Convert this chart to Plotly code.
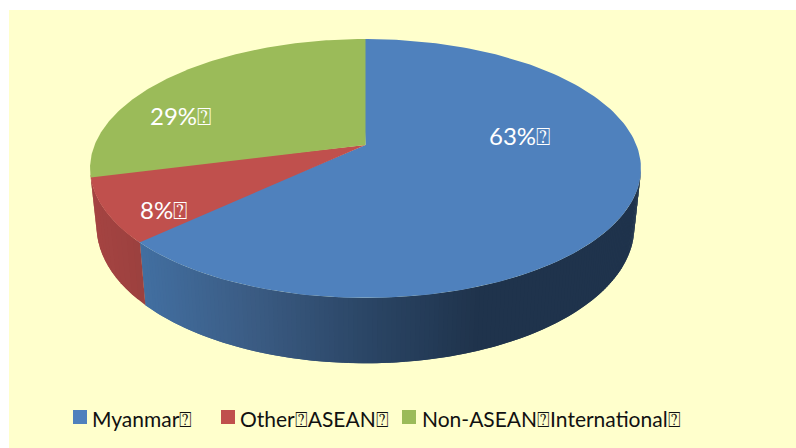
import numpy as np
import plotly.graph_objects as go

categories = ["Myanmar", "Other ASEAN", "Non-ASEAN International"]
shares = [63, 8, 29]
colors = ["#4F81BD", "#C0504D", "#9BBB59"]
TOFU = "\u2370"
legend_labels = ["Myanmar" + TOFU, "Other" + TOFU + "ASEAN" + TOFU, "Non-ASEAN" + TOFU + "International" + TOFU]
pct_labels = [f"{s}%" + TOFU for s in shares]

W, H = 796, 448
CX, CY_TOP, CY_BOT = 365.5, 145.0, 202.0
A, B_TOP, B_BOT = 270.9, 125.2, 132.0
K, BOTTOM_SCALE = 0.1814, 0.976
FONT = "Lato"


def project(deg, cy, b, scale):
    t = np.radians(deg)
    u, v = np.sin(t), np.cos(t)
    d = 1 + K * v
    return CX + scale * A * u / d, cy - b * v / d


def top(deg):
    return project(deg, CY_TOP, B_TOP, 1.0)


def bottom(deg):
    return project(deg, CY_BOT, B_BOT, BOTTOM_SCALE)


def mix(stops, x):
    xs = [s[0] for s in stops]
    return "rgb({:.0f},{:.0f},{:.0f})".format(*[np.interp(x, xs, [s[1][i] for s in stops]) for i in range(3)])


BLUE_SIDE = [(140, (66, 111, 161)), (250, (59, 92, 132)), (365, (43, 70, 102)), (480, (31, 51, 76)), (700, (31, 51, 76))]
RED_SIDE = [(90, (165, 68, 66)), (145, (155, 64, 62))]

total = sum(shares)
cum = np.cumsum([0] + shares) / total * 360
fig = go.Figure()


def poly(xs, ys, color):
    fig.add_trace(go.Scatter(x=xs, y=ys, mode="lines", fill="toself", fillcolor=color,
                             line=dict(color=color, width=0), showlegend=False, hoverinfo="skip"))


# side walls, drawn as narrow overlapping strips so the shading can vary along the rim
def wall(a0, a1, stops, n):
    edges = np.linspace(a0, a1, n + 1)
    step = edges[1] - edges[0]
    for e0 in edges[:-1]:
        ang = np.linspace(e0, min(e0 + 2 * step, a1), 4)
        tx, ty = top(ang)
        bx, by = bottom(ang[::-1])
        poly(np.r_[tx, bx, tx[0]], np.r_[ty, by, ty[0]], mix(stops, tx[:2].mean()))


wall(100.5, cum[1], BLUE_SIDE, 150)
wall(cum[1], cum[2], RED_SIDE, 12)

# top faces: each one slips under the next, so no background shows at the seams
for i, (a0, a1) in enumerate([(cum[0] - 1, cum[1] + 1), (cum[1], cum[2] + 1), (cum[2], cum[3])]):
    ang = np.linspace(a0, a1, 160)
    x, y = top(ang)
    poly(np.r_[CX, x, CX], np.r_[CY_TOP, y, CY_TOP], colors[i])

# legend row: square key with its label beside it
key_x = [80, 228, 409]
text_x = [92, 240, 422]
KEY_Y, TEXT_Y = 417, 418.5
annotations = []
for name, label, col, kx, tx in zip(categories, legend_labels, colors, key_x, text_x):
    fig.add_trace(go.Scatter(x=[kx], y=[KEY_Y], mode="markers", name=name, showlegend=False, cliponaxis=False,
                             marker=dict(symbol="square", size=14, color=col)))
    annotations.append(dict(x=tx, y=TEXT_Y, text=label, showarrow=False, xref="x", yref="y", xanchor="left",
                            xshift=-2, font=dict(family=FONT, size=21, color="#111111")))

label_pos = [(519, 135.5), (163, 209), (180, 115)]
annotations += [dict(x=p[0], y=p[1], text=t, showarrow=False, xref="x", yref="y",
                     font=dict(family=FONT, size=24, color="white"))
                for p, t in zip(label_pos, pct_labels)]

fig.update_layout(
    width=W, height=H, autosize=False,
    margin=dict(l=0, r=0, t=0, b=0),
    paper_bgcolor="white", plot_bgcolor="white",
    xaxis=dict(range=[0, W], visible=False, fixedrange=True),
    yaxis=dict(range=[H, 0], visible=False, fixedrange=True),
    shapes=[dict(type="rect", xref="x", yref="y", x0=9, x1=W, y0=10, y1=H,
                 fillcolor="#FFFFCC", line=dict(width=0), layer="below")],
    annotations=annotations,
    showlegend=False,
)
fig.write_html("out.html", config=dict(displayModeBar=False),
               post_script="document.body.style.margin='0';document.documentElement.style.overflow='hidden';")
